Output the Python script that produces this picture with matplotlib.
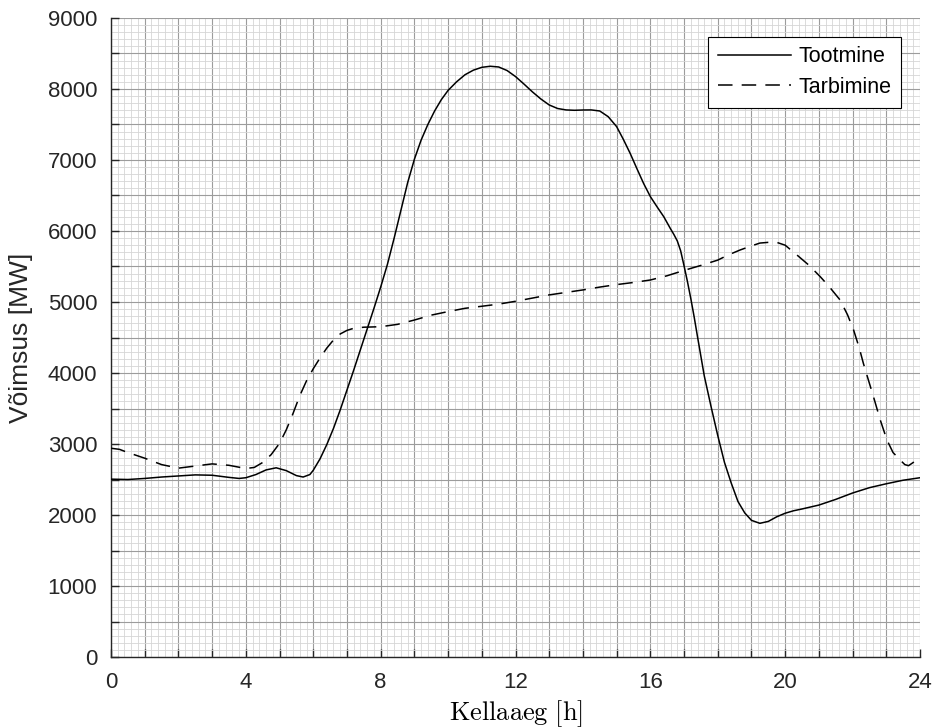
import numpy as np
import matplotlib
matplotlib.use("Agg")
import matplotlib.pyplot as plt
from matplotlib.ticker import MultipleLocator

# --- data ---
prod_h = [0, 0.5, 1.0, 1.5, 2.0, 2.5, 3.0, 3.5, 3.8, 4.0, 4.3, 4.6, 4.9, 5.2, 5.5, 5.7,
          5.9, 6.0, 6.2, 6.4, 6.6, 6.8, 7.0, 7.2, 7.4, 7.6, 7.8, 8.0, 8.2, 8.4, 8.6, 8.8,
          9.0, 9.2, 9.4, 9.6, 9.8, 10.0, 10.25, 10.5, 10.75, 11.0, 11.25, 11.5, 11.75,
          12.0, 12.25, 12.5, 12.75, 13.0, 13.25, 13.5, 13.75, 14.0, 14.25, 14.5, 14.75,
          15.0, 15.2, 15.4, 15.6, 15.8, 16.0, 16.2, 16.4, 16.6, 16.7, 16.8, 16.9, 17.0,
          17.1, 17.2, 17.3, 17.4, 17.6, 17.8, 18.0, 18.2, 18.4, 18.6, 18.8, 19.0, 19.25,
          19.5, 19.75, 20.0, 20.25, 20.5, 21.0, 21.5, 22.0, 22.5, 23.0, 23.5, 24.0]
prod_mw = [2505, 2500, 2515, 2535, 2550, 2565, 2560, 2530, 2515, 2525, 2570, 2635, 2665,
           2625, 2555, 2535, 2570, 2630, 2790, 2990, 3220, 3480, 3760, 4040, 4330, 4620,
           4910, 5210, 5530, 5900, 6290, 6680, 7010, 7280, 7500, 7690, 7850, 7980, 8100,
           8200, 8265, 8305, 8320, 8310, 8260, 8175, 8070, 7960, 7860, 7775, 7725, 7705,
           7700, 7704, 7705, 7690, 7610, 7470, 7290, 7095, 6880, 6670, 6485, 6340, 6200,
           6030, 5950, 5860, 5720, 5510, 5290, 5050, 4790, 4510, 3960, 3530, 3120, 2740,
           2450, 2190, 2030, 1925, 1883, 1910, 1975, 2025, 2060, 2085, 2140, 2220, 2310,
           2385, 2440, 2490, 2525]

cons_h = [0, 0.25, 0.5, 0.75, 1.0, 1.5, 2.0, 2.5, 3.0, 3.5, 4.0, 4.25, 4.5, 4.75, 5.0, 5.2,
          5.4, 5.6, 5.8, 6.0, 6.2, 6.4, 6.6, 6.8, 7.0, 7.2, 7.5, 8.0, 8.5, 9.0, 9.5, 10.0,
          10.5, 11.0, 11.5, 12.0, 12.5, 13.0, 13.5, 14.0, 14.5, 15.0, 15.5, 16.0, 16.5,
          17.0, 17.5, 18.0, 18.3, 18.66, 19.0, 19.25, 19.5, 19.75, 20.0, 20.35, 20.7,
          21.04, 21.3, 21.63, 21.85, 22.03, 22.2, 22.32, 22.47, 22.62, 22.82, 23.02, 23.2,
          23.41, 23.55, 23.66, 23.8, 23.96]
cons_mw = [2940, 2925, 2880, 2840, 2800, 2710, 2660, 2690, 2720, 2700, 2655, 2670, 2740,
           2850, 3010, 3200, 3430, 3680, 3890, 4060, 4211, 4350, 4465, 4550, 4600, 4630,
           4645, 4652, 4685, 4746, 4815, 4865, 4911, 4940, 4970, 5010, 5055, 5100, 5135,
           5170, 5210, 5245, 5275, 5310, 5370, 5445, 5515, 5590, 5660, 5732, 5790, 5830,
           5840, 5840, 5800, 5662, 5520, 5357, 5220, 5028, 4820, 4606, 4350, 4136, 3900,
           3666, 3340, 3056, 2880, 2775, 2710, 2695, 2740, 2845]

x_ticklabels = ["0", "4", "8", "12", "16", "20", "24"]
y_ticklabels = ["0", "1000", "2000", "3000", "4000", "5000", "6000", "7000", "8000", "9000"]
series_names = ["Tootmine", "Tarbimine"]

plt.rcParams['font.family'] = ['Liberation Sans', 'DejaVu Sans']
plt.rcParams['mathtext.fontset'] = 'cm'

fig = plt.figure(figsize=(9.36, 7.28), dpi=100)
ax = fig.add_axes([0.1186, 0.0975, 0.8643, 0.8778])

ax.plot(prod_h, prod_mw, color='black', lw=1.1, label=series_names[0], zorder=3)
ax.plot(cons_h, cons_mw, color='black', lw=1.1, dashes=[9.5, 6], label=series_names[1], zorder=3)

ax.set_xlim(0, 24)
ax.set_ylim(0, 9000)

# tick marks every 1 h / 500 MW, labels every 4 h / 1000 MW
xt = np.arange(0, 25, 1)
ax.set_xticks(xt)
ax.set_xticklabels([x_ticklabels[i // 4] if i % 4 == 0 else "" for i in range(len(xt))])
yt = np.arange(0, 9001, 500)
ax.set_yticks(yt)
ax.set_yticklabels([y_ticklabels[i // 2] if i % 2 == 0 else "" for i in range(len(yt))])
ax.xaxis.set_minor_locator(MultipleLocator(0.2))
ax.yaxis.set_minor_locator(MultipleLocator(100))

ax.tick_params(which='major', direction='in', length=6, width=1.0, color='#262626',
               labelsize=16, labelcolor='#262626', top=False, right=False)
ax.tick_params(axis='x', which='major', pad=11)
ax.tick_params(axis='y', which='major', pad=10)
ax.tick_params(which='minor', length=0)

ax.grid(which='major', color='#9c9c9c', lw=0.8, zorder=1)
ax.grid(which='minor', color='#d6d6d6', lw=0.6, zorder=0)
ax.set_axisbelow(True)

for s in ['top', 'right']:
    ax.spines[s].set_visible(False)
for s in ['left', 'bottom']:
    ax.spines[s].set_color('#262626')
    ax.spines[s].set_linewidth(1.0)

ax.set_ylabel("Võimsus [MW]", fontsize=19, color='#262626')
ax.yaxis.set_label_coords(-0.096, 0.5)
ax.set_xlabel(r"$\mathrm{Kellaaeg\ [h]}$", fontsize=19, color='black')
ax.xaxis.set_label_coords(0.5, -0.064)

leg = ax.legend(loc='upper right', bbox_to_anchor=(0.9765, 0.971), fontsize=15.5,
                frameon=True, fancybox=False, edgecolor='black', framealpha=1,
                handlelength=3.4, handletextpad=0.35, borderpad=0.45, labelspacing=0.45,
                borderaxespad=0)
leg.get_frame().set_linewidth(0.8)

fig.savefig("out.png", dpi=100)
